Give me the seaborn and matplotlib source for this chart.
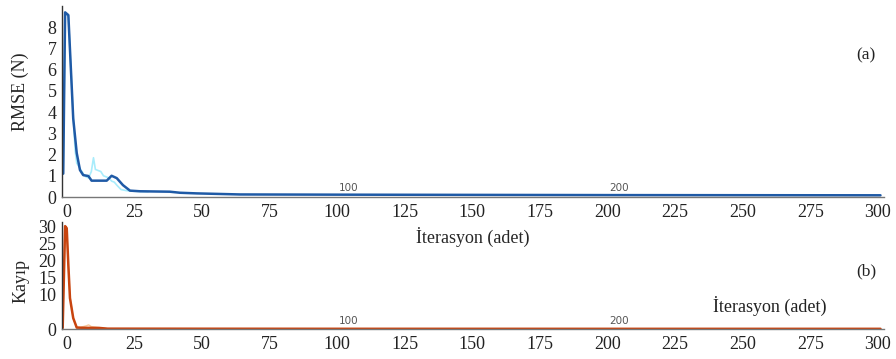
import numpy as np
import pandas as pd
import matplotlib
matplotlib.use("Agg")
import matplotlib.pyplot as plt
import seaborn as sns

# ---------------- data ----------------
rmse_iter = [-1.4, -0.7, 0.5, 2.3, 3.6, 4.8, 6.0, 7.9, 9.1, 14.7, 16.5, 18.4, 20.7,
             23.3, 27, 38, 41.8, 48, 64, 100, 150, 200, 250, 301]
rmse_smooth = [1.1, 8.7, 8.57, 3.7, 2.07, 1.27, 1.03, 0.99, 0.77, 0.77, 1.0, 0.89, 0.56,
               0.3, 0.27, 0.25, 0.2, 0.17, 0.12, 0.11, 0.1, 0.09, 0.085, 0.08]

rmse_raw_iter = [-1.4, -0.7, 0.5, 2.3, 3.0, 3.6, 4.8, 6.0, 7.0, 8.0, 9.0, 9.8, 10.5,
                 11.5, 12.5, 13.5, 14.5, 15.5, 16.5, 17.5, 18.5, 20.0, 22.0, 25.0, 30.0]
rmse_raw = [1.1, 8.7, 8.5, 3.8, 2.2, 1.6, 1.35, 1.1, 0.95, 0.9, 1.2, 1.85, 1.3,
            1.25, 1.2, 1.0, 0.95, 0.9, 0.75, 0.7, 0.55, 0.35, 0.3, 0.27, 0.25]

loss_iter = [-1.6, -0.7, -0.1, 0.5, 1.1, 2.3, 3.6, 6, 12, 15, 50, 100, 200, 301]
loss_smooth = [0.3, 30.0, 29.4, 18.6, 9.0, 3.2, 0.4, 0.35, 0.3, 0.1, 0.08, 0.06, 0.05, 0.05]

loss_raw_iter = [-1.6, -0.7, -0.1, 0.5, 1.1, 2.3, 3.6, 5, 7, 8, 9, 11, 13, 15]
loss_raw = [0.3, 30.0, 29.0, 18.0, 9.5, 3.0, 0.6, 0.5, 0.9, 1.2, 0.7, 0.5, 0.3, 0.1]

x_ticks = list(range(0, 301, 25))
rmse_yticks = [0, 1, 2, 3, 4, 5, 6, 7, 8]
loss_yticks = [0, 10, 15, 20, 25, 30]
minor_x = [50, 100, 150, 200, 250, 300]

# ---------------- style ----------------
sns.set_theme(style="white")
plt.rcParams["font.family"] = ["Liberation Serif", "DejaVu Serif"]

W, H = 896, 359
fig = plt.figure(figsize=(W / 100, H / 100), dpi=100)

def frac_box(x0, x1, ytop, ybot):
    return [x0 / W, 1 - ybot / H, (x1 - x0) / W, (ybot - ytop) / H]

ax1 = fig.add_axes(frac_box(62, 884, 6, 197))
ax2 = fig.add_axes(frac_box(62, 884, 222, 329))

blue_dark = "#1f5aa6"
blue_light = "#a8ecfb"
org_dark = "#c8440f"
org_light = "#f7c79a"

df_rr = pd.DataFrame({"x": rmse_raw_iter, "y": rmse_raw})
df_rs = pd.DataFrame({"x": rmse_iter, "y": rmse_smooth})
df_lr = pd.DataFrame({"x": loss_raw_iter, "y": loss_raw})
df_ls = pd.DataFrame({"x": loss_iter, "y": loss_smooth})

sns.lineplot(data=df_rr, x="x", y="y", ax=ax1, color=blue_light, lw=1.2, sort=False)
sns.lineplot(data=df_rs, x="x", y="y", ax=ax1, color=blue_dark, lw=1.8, sort=False)
sns.lineplot(data=df_lr, x="x", y="y", ax=ax2, color=org_light, lw=1.0, sort=False)
sns.lineplot(data=df_ls, x="x", y="y", ax=ax2, color=org_dark, lw=1.8, sort=False)

tick_fs = 13
for ax, ylim, yt in [(ax1, (0, 9), rmse_yticks), (ax2, (0, 31.2), loss_yticks)]:
    ax.set_xlim(-1.85, 302.3)
    ax.set_ylim(*ylim)
    ax.set_xticks(x_ticks)
    ax.set_xticklabels([str(t) for t in x_ticks], fontsize=tick_fs, color="#222222")
    ax.set_xticks(minor_x, minor=True)
    ax.set_yticks(yt)
    ax.set_yticklabels([str(t) for t in yt], fontsize=tick_fs, color="#222222")
    ax.tick_params(axis="x", which="major", length=0, pad=5)
    ax.tick_params(axis="x", which="minor", direction="in", length=4, width=1, color="#333333")
    ax.tick_params(axis="y", which="major", direction="in", length=4, width=0.8,
                   color="#333333", pad=4)
    for s in ["top", "right"]:
        ax.spines[s].set_visible(False)
    ax.spines["left"].set_color("#333333")
    ax.spines["bottom"].set_color("#777777")
    ax.spines["left"].set_linewidth(1.0)
    ax.spines["bottom"].set_linewidth(1.0)
    ax.patch.set_alpha(0.0)

ax1.set_xlabel("İterasyon (adet)", fontsize=tick_fs, labelpad=4)
ax1.set_ylabel("RMSE (N)", fontsize=tick_fs)
ax2.set_xlabel("")
ax2.set_ylabel("Kayıp", fontsize=tick_fs)
ax1.yaxis.set_label_coords(-0.040, 0.55)
ax2.yaxis.set_label_coords(-0.040, 0.45)

ax2.text(260, 6.7, "İterasyon (adet)", fontsize=tick_fs, ha="center", va="center",
         color="#222222")
ax1.text(0.978, 0.74, "(a)", transform=ax1.transAxes, fontsize=tick_fs - 0.5,
         ha="center", va="center", color="#222222")
ax2.text(0.978, 0.54, "(b)", transform=ax2.transAxes, fontsize=tick_fs - 0.5,
         ha="center", va="center", color="#222222")

for ax, yv in [(ax1, 0.18), (ax2, 0.9)]:
    for v in [100, 200]:
        ax.text(v + 0.6, yv, str(v), fontsize=7.5, family="DejaVu Sans",
                color="#555555", ha="left", va="bottom")

fig.savefig("out.png", dpi=100, facecolor="white")
